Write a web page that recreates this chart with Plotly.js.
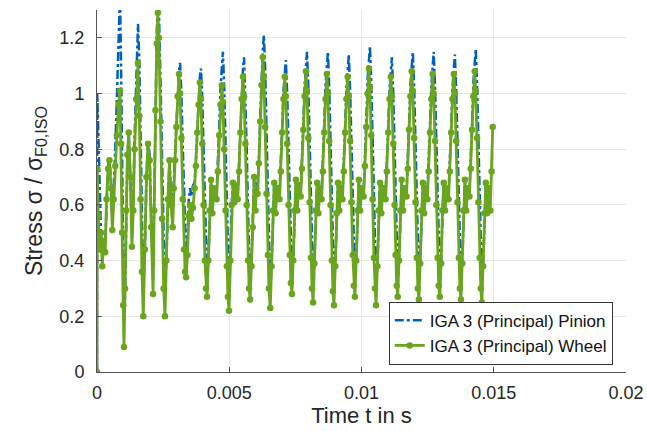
<!DOCTYPE html>
<html>
<head>
<meta charset="utf-8">
<script src="https://cdn.plot.ly/plotly-3.0.1.min.js"></script>
<style>html,body{margin:0;padding:0;background:#fff;}#chart{width:647px;height:431px;}</style>
</head>
<body>
<div id="chart"></div>
<script>
// Time samples in milliseconds (converted to seconds for the axis)
const tMs = [
  0.00, 0.01, 0.05, 0.10, 0.15, 0.20, 0.25, 0.31, 0.36, 0.42, 0.47, 0.53, 0.58, 0.63, 0.69, 0.75, 0.81,
  0.87, 0.91, 0.95, 0.99, 1.02, 1.06, 1.10, 1.15, 1.20, 1.26, 1.32, 1.37, 1.42, 1.48,
  1.55, 1.60, 1.65, 1.70, 1.75, 1.81, 1.87, 1.93, 1.99, 2.05, 2.12, 2.16, 2.21, 2.26,
  2.30, 2.34, 2.40, 2.46, 2.52, 2.57, 2.62, 2.68, 2.74, 2.80, 2.86,
  2.90, 2.95, 3.00, 3.05, 3.10, 3.14, 3.19, 3.24, 3.29, 3.33, 3.37, 3.42, 3.47, 3.52, 3.57, 3.63,
  3.69, 3.74, 3.79, 3.84, 3.89, 3.93, 3.98, 4.03, 4.08, 4.12, 4.16, 4.21, 4.26, 4.31, 4.36, 4.42,
  4.52, 4.57, 4.62, 4.67, 4.72, 4.76, 4.81, 4.86, 4.91, 4.95, 4.99, 5.04, 5.09, 5.14, 5.19, 5.25,
  5.32, 5.37, 5.42, 5.47, 5.52, 5.56, 5.61, 5.66, 5.71, 5.75, 5.79, 5.84, 5.89, 5.94, 5.99, 6.02,
  6.07, 6.12, 6.17, 6.22, 6.27, 6.31, 6.36, 6.41, 6.46, 6.50, 6.55, 6.60, 6.65, 6.70, 6.75, 6.81,
  6.90, 6.95, 7.00, 7.05, 7.10, 7.14, 7.19, 7.24, 7.29, 7.33, 7.37, 7.42, 7.47, 7.52, 7.57, 7.63,
  7.70, 7.75, 7.80, 7.85, 7.90, 7.94, 7.99, 8.04, 8.09, 8.13, 8.17, 8.22, 8.27, 8.32, 8.37, 8.43,
  8.49, 8.54, 8.59, 8.64, 8.69, 8.73, 8.78, 8.83, 8.88, 8.92, 8.96, 9.01, 9.06, 9.11, 9.16, 9.22,
  9.28, 9.33, 9.38, 9.43, 9.48, 9.52, 9.57, 9.62, 9.67, 9.71, 9.75, 9.80, 9.85, 9.90, 9.95, 10.01,
  10.08, 10.13, 10.18, 10.23, 10.28, 10.32, 10.37, 10.42, 10.47, 10.51, 10.55, 10.60, 10.65, 10.70, 10.75, 10.81,
  10.91, 10.96, 11.01, 11.06, 11.11, 11.15, 11.20, 11.25, 11.29, 11.33, 11.37, 11.42, 11.47, 11.52, 11.57, 11.63,
  11.70, 11.75, 11.80, 11.85, 11.90, 11.94, 11.99, 12.04, 12.09, 12.13, 12.17, 12.22, 12.27, 12.32, 12.37, 12.43,
  12.49, 12.54, 12.59, 12.64, 12.69, 12.73, 12.78, 12.83, 12.88, 12.92, 12.96, 13.01, 13.06, 13.11, 13.16, 13.22,
  13.29, 13.34, 13.39, 13.44, 13.49, 13.53, 13.58, 13.63, 13.68, 13.72, 13.76, 13.81, 13.86, 13.91, 13.96, 14.02,
  14.08, 14.13, 14.18, 14.23, 14.28, 14.32, 14.37, 14.42, 14.47, 14.51, 14.55, 14.60, 14.65, 14.70, 14.75,
  14.81, 14.87, 14.92, 14.96
];

// IGA 3 (Principal) Wheel — normalised stress
const wheel = [
  0.00, 0.73, 0.56, 0.44, 0.50, 0.38, 0.47, 0.43, 0.62, 0.73, 0.76, 0.66, 0.51, 0.62, 0.74, 0.85, 0.96,
  1.01, 0.82, 0.50, 0.24, 0.09, 0.30, 0.58, 0.78, 0.86, 0.70, 0.45, 0.58, 0.80, 0.98,
  1.11, 0.92, 0.62, 0.36, 0.20, 0.44, 0.70, 0.82, 0.76, 0.52, 0.28, 0.58, 0.94, 1.18,
  1.29, 1.20, 0.90, 0.55, 0.30, 0.20, 0.40, 0.62, 0.76, 0.60, 0.52,
  0.66, 0.76, 0.88, 0.99, 1.07, 1.00, 0.84, 0.62, 0.44, 0.36, 0.34, 0.42, 0.56, 0.60, 0.55, 0.59,
  0.66, 0.74, 0.86, 0.96, 1.04, 0.98, 0.82, 0.60, 0.40, 0.30, 0.27, 0.40, 0.58, 0.69, 0.57, 0.66,
  0.62, 0.72, 0.85, 0.96, 1.03, 0.97, 0.80, 0.58, 0.38, 0.27, 0.22, 0.40, 0.60, 0.68, 0.61, 0.67,
  0.62, 0.72, 0.86, 0.98, 1.06, 0.99, 0.82, 0.60, 0.40, 0.30, 0.26, 0.38, 0.52, 0.70, 0.58, 0.66,
  0.64, 0.75, 0.90, 1.03, 1.13, 1.06, 0.88, 0.64, 0.42, 0.30, 0.23, 0.38, 0.58, 0.68, 0.57, 0.66,
  0.62, 0.72, 0.86, 0.98, 1.06, 0.99, 0.82, 0.60, 0.42, 0.32, 0.28, 0.40, 0.58, 0.69, 0.58, 0.67,
  0.63, 0.73, 0.87, 0.99, 1.08, 1.01, 0.84, 0.61, 0.41, 0.30, 0.25, 0.39, 0.58, 0.68, 0.57, 0.66,
  0.62, 0.72, 0.86, 0.98, 1.07, 1.00, 0.83, 0.60, 0.40, 0.29, 0.24, 0.38, 0.57, 0.68, 0.58, 0.66,
  0.62, 0.72, 0.86, 0.98, 1.06, 0.99, 0.83, 0.61, 0.42, 0.31, 0.27, 0.40, 0.58, 0.69, 0.58, 0.66,
  0.63, 0.74, 0.88, 1.00, 1.09, 1.02, 0.85, 0.62, 0.41, 0.30, 0.24, 0.38, 0.58, 0.68, 0.57, 0.66,
  0.62, 0.72, 0.86, 0.98, 1.06, 0.99, 0.82, 0.60, 0.42, 0.31, 0.27, 0.40, 0.58, 0.69, 0.58, 0.66,
  0.63, 0.73, 0.87, 0.99, 1.08, 1.01, 0.84, 0.61, 0.41, 0.30, 0.26, 0.39, 0.58, 0.68, 0.57, 0.66,
  0.62, 0.72, 0.86, 0.98, 1.07, 1.00, 0.83, 0.60, 0.41, 0.31, 0.27, 0.39, 0.58, 0.68, 0.58, 0.66,
  0.62, 0.72, 0.86, 0.98, 1.07, 1.00, 0.83, 0.61, 0.41, 0.30, 0.26, 0.39, 0.58, 0.69, 0.58, 0.66,
  0.63, 0.73, 0.87, 0.99, 1.08, 1.01, 0.84, 0.61, 0.41, 0.30, 0.25, 0.38, 0.57, 0.68, 0.57,
  0.66, 0.58, 0.72, 0.88
];

// IGA 3 (Principal) Pinion — normalised stress
const pinion = [
  0.00, 1.00, 0.86, 0.62, 0.50, 0.42, 0.48, 0.46, 0.63, 0.74, 0.77, 0.68, 0.54, 0.64, 0.80, 0.98, 1.18,
  1.36, 1.10, 0.70, 0.35, 0.18, 0.28, 0.58, 0.78, 0.85, 0.70, 0.48, 0.60, 0.84, 1.08,
  1.25, 1.12, 0.80, 0.48, 0.28, 0.44, 0.70, 0.83, 0.78, 0.55, 0.33, 0.60, 0.96, 1.22,
  1.33, 1.30, 1.05, 0.72, 0.42, 0.26, 0.40, 0.63, 0.76, 0.64, 0.58,
  0.68, 0.78, 0.90, 1.02, 1.08, 1.11, 1.00, 0.82, 0.64, 0.50, 0.40, 0.46, 0.62, 0.66, 0.63, 0.67,
  0.68, 0.76, 0.88, 0.99, 1.06, 1.09, 0.98, 0.80, 0.60, 0.45, 0.34, 0.40, 0.58, 0.68, 0.60, 0.67,
  0.64, 0.74, 0.88, 1.02, 1.10, 1.15, 1.02, 0.82, 0.60, 0.42, 0.30, 0.40, 0.60, 0.68, 0.63, 0.68,
  0.64, 0.74, 0.88, 1.02, 1.09, 1.13, 1.00, 0.80, 0.58, 0.42, 0.32, 0.40, 0.55, 0.70, 0.62, 0.68,
  0.66, 0.76, 0.92, 1.08, 1.16, 1.21, 1.08, 0.86, 0.62, 0.44, 0.30, 0.38, 0.58, 0.68, 0.60, 0.67,
  0.64, 0.74, 0.88, 1.01, 1.08, 1.12, 1.00, 0.80, 0.60, 0.44, 0.34, 0.40, 0.58, 0.68, 0.61, 0.68,
  0.65, 0.75, 0.89, 1.03, 1.11, 1.15, 1.02, 0.82, 0.60, 0.43, 0.32, 0.40, 0.58, 0.68, 0.60, 0.67,
  0.64, 0.74, 0.89, 1.03, 1.11, 1.15, 1.02, 0.81, 0.60, 0.42, 0.31, 0.39, 0.57, 0.68, 0.61, 0.67,
  0.64, 0.74, 0.88, 1.02, 1.10, 1.14, 1.01, 0.81, 0.60, 0.44, 0.33, 0.40, 0.58, 0.68, 0.61, 0.67,
  0.65, 0.76, 0.90, 1.05, 1.13, 1.17, 1.04, 0.83, 0.61, 0.43, 0.31, 0.39, 0.58, 0.68, 0.60, 0.67,
  0.64, 0.74, 0.88, 1.02, 1.09, 1.13, 1.00, 0.80, 0.61, 0.45, 0.34, 0.40, 0.58, 0.68, 0.61, 0.67,
  0.65, 0.75, 0.89, 1.03, 1.11, 1.15, 1.02, 0.82, 0.60, 0.43, 0.33, 0.40, 0.58, 0.68, 0.60, 0.67,
  0.64, 0.74, 0.89, 1.03, 1.11, 1.15, 1.02, 0.81, 0.60, 0.44, 0.34, 0.40, 0.58, 0.68, 0.61, 0.67,
  0.64, 0.74, 0.88, 1.02, 1.10, 1.14, 1.01, 0.81, 0.60, 0.43, 0.33, 0.40, 0.58, 0.68, 0.61, 0.67,
  0.65, 0.75, 0.89, 1.04, 1.12, 1.16, 1.03, 0.82, 0.60, 0.43, 0.32, 0.39, 0.57, 0.67, 0.60
];

const xTickVals = [0, 0.005, 0.01, 0.015, 0.02];
const xTickText = ['0', '0.005', '0.01', '0.015', '0.02'];
const yTickVals = [0, 0.2, 0.4, 0.6, 0.8, 1, 1.2];
const yTickText = ['0', '0.2', '0.4', '0.6', '0.8', '1', '1.2'];

const tSec = tMs.map(v => v / 1000);
const FONT = 'Liberation Sans, Arial, Helvetica, sans-serif';

const traces = [
  {
    name: 'IGA 3 (Principal) Pinion',
    x: tSec.slice(0, pinion.length), y: pinion,
    type: 'scatter', mode: 'lines',
    line: {color: '#0060c0', width: 2.5, dash: 'dashdot'}
  },
  {
    name: 'IGA 3 (Principal) Wheel',
    x: tSec.slice(0, wheel.length), y: wheel,
    type: 'scatter', mode: 'lines+markers',
    line: {color: '#6aa51e', width: 2.8},
    marker: {color: '#6aa51e', size: 6.5}
  }
];

const axisCommon = {
  showline: true, linecolor: '#555', linewidth: 1,
  ticks: 'inside', ticklen: 5, tickcolor: '#555',
  showgrid: true, gridcolor: '#e6e6e6', gridwidth: 1,
  zeroline: false,
  tickfont: {family: FONT, size: 18, color: '#262626'},
  automargin: false
};

const layout = {
  width: 647, height: 431,
  margin: {l: 97, r: 21, t: 10, b: 59},
  paper_bgcolor: '#fff', plot_bgcolor: '#fff',
  showlegend: true,
  legend: {
    x: 0.975, y: 0.02, xanchor: 'right', yanchor: 'bottom',
    bgcolor: '#fff', bordercolor: '#333', borderwidth: 1,
    font: {family: FONT, size: 17, color: '#111'},
    tracegroupgap: 0, itemwidth: 30
  },
  xaxis: Object.assign({}, axisCommon, {
    range: [0, 0.02], tickmode: 'array', tickvals: xTickVals, ticktext: xTickText,
    ticklabelstandoff: 4,
    title: {text: 'Time t in s', font: {family: FONT, size: 22, color: '#262626'}, standoff: 4}
  }),
  yaxis: Object.assign({}, axisCommon, {
    range: [0, 1.3], tickmode: 'array', tickvals: yTickVals, ticktext: yTickText,
    ticklabelstandoff: 8,
    title: {text: 'Stress σ / σ<sub>F0,ISO</sub>', font: {family: FONT, size: 23, color: '#262626'}, standoff: 10}
  })
};

Plotly.newPlot('chart', traces, layout, {displayModeBar: false, staticPlot: true});
</script>
</body>
</html>
